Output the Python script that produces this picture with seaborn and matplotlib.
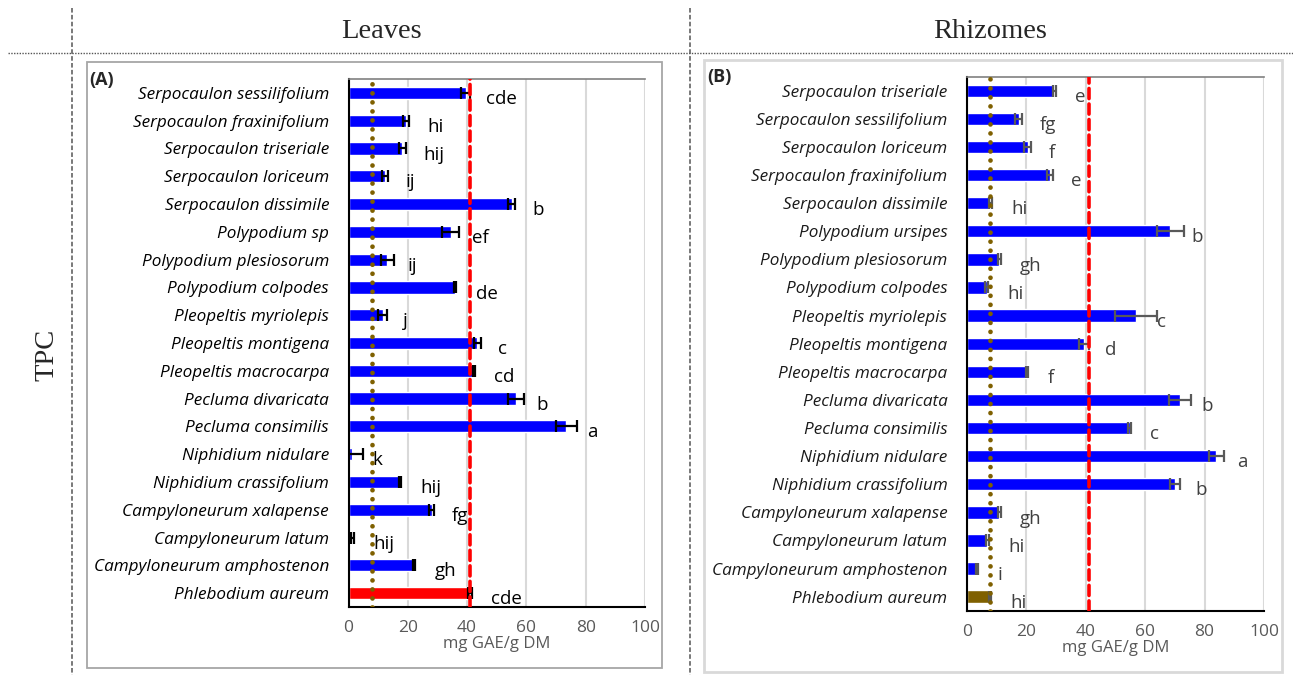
import matplotlib
matplotlib.use("Agg")
import matplotlib.pyplot as plt
import seaborn as sns
import numpy as np
import pandas as pd
from matplotlib.patches import Rectangle
from matplotlib.lines import Line2D

# ---- Leaves (A) ----
leaf_species = [
    "Serpocaulon sessilifolium", "Serpocaulon fraxinifolium", "Serpocaulon triseriale",
    "Serpocaulon loriceum", "Serpocaulon dissimile", "Polypodium sp",
    "Polypodium plesiosorum", "Polypodium colpodes", "Pleopeltis myriolepis",
    "Pleopeltis montigena", "Pleopeltis macrocarpa", "Pecluma divaricata",
    "Pecluma consimilis", "Niphidium nidulare", "Niphidium crassifolium",
    "Campyloneurum xalapense", "Campyloneurum latum", "Campyloneurum amphostenon",
    "Phlebodium aureum",
]
leaf_tpc = [39.5, 19.5, 18.2, 12.3, 55.0, 34.5, 13.0, 36.0, 11.5, 43.5, 42.2,
            56.5, 73.5, 1.2, 17.3, 28.0, 1.3, 22.2, 41.0]
leaf_err = [1.5, 1.0, 1.2, 1.0, 1.2, 2.8, 2.2, 0.4, 1.4, 1.3, 0.3,
            2.8, 3.4, 3.8, 0.3, 0.8, 0.5, 0.3, 0.8]
leaf_groups = ["cde", "hi", "hij", "ij", "b", "ef", "ij", "de", "j", "c", "cd",
               "b", "a", "k", "hij", "fg", "hij", "gh", "cde"]

# ---- Rhizomes (B) ----
rhiz_species = [
    "Serpocaulon triseriale", "Serpocaulon sessilifolium", "Serpocaulon loriceum",
    "Serpocaulon fraxinifolium", "Serpocaulon dissimile", "Polypodium ursipes",
    "Polypodium plesiosorum", "Polypodium colpodes", "Pleopeltis myriolepis",
    "Pleopeltis montigena", "Pleopeltis macrocarpa", "Pecluma divaricata",
    "Pecluma consimilis", "Niphidium nidulare", "Niphidium crassifolium",
    "Campyloneurum xalapense", "Campyloneurum latum", "Campyloneurum amphostenon",
    "Phlebodium aureum",
]
rhiz_tpc = [29.5, 17.5, 20.5, 28.0, 8.0, 68.5, 11.0, 6.7, 57.0, 39.5, 20.2,
            71.8, 54.8, 84.0, 70.0, 11.0, 6.9, 3.4, 7.8]
rhiz_err = [0.6, 1.2, 1.1, 1.1, 0.5, 4.5, 0.4, 0.4, 7.0, 1.8, 0.3,
            3.6, 0.4, 2.5, 1.7, 0.4, 0.5, 0.3, 0.4]
rhiz_groups = ["e", "fg", "f", "e", "hi", "b", "gh", "hi", "c", "d", "f",
               "b", "c", "a", "b", "gh", "hi", "i", "hi"]

x_ticks = [0, 20, 40, 60, 80, 100]

BLUE = "#0000ff"
RED = "#ff0000"
BROWN = "#7f6000"
GRID = "#d9d9d9"
TICKGRAY = "#595959"

sns.set_theme(style="white")
plt.rcParams["font.family"] = ["Open Sans", "DejaVu Sans"]

W, H = 1293, 675
fig = plt.figure(figsize=(W / 100, H / 100), dpi=100)


def fx(px):
    return px / W


def fy(py):
    return 1 - py / H


# table rules
fig.add_artist(Line2D([fx(72), fx(72)], [fy(8), fy(675)], color="#555555",
                      lw=1.1, ls=(0, (3, 1.5))))
fig.add_artist(Line2D([fx(690), fx(690)], [fy(8), fy(675)], color="#555555",
                      lw=1.1, ls=(0, (3, 1.5))))
fig.add_artist(Line2D([fx(8), fx(1293)], [fy(52.5), fy(52.5)], color="#555555",
                      lw=1.0, ls=(0, (1, 1))))

fig.text(fx(381), fy(32), "Leaves", ha="center", va="center",
         family="Liberation Serif", fontsize=20.5)
fig.text(fx(990), fy(32), "Rhizomes", ha="center", va="center",
         family="Liberation Serif", fontsize=20.5)
fig.text(fx(47), fy(355), "TPC", ha="center", va="center", rotation=90,
         family="Liberation Serif", fontsize=20.5)

# panel frames
fig.add_artist(Rectangle((fx(87), fy(668)), fx(662) - fx(87), fy(62) - fy(668),
                         transform=fig.transFigure, fill=False,
                         edgecolor="#a6a6a6", lw=1.3))
fig.add_artist(Rectangle((fx(704), fy(672)), fx(1282) - fx(704), fy(60) - fy(672),
                         transform=fig.transFigure, fill=False,
                         edgecolor="#d9d9d9", lw=2.0))
fig.text(fx(89), fy(80), "(A)", ha="left", va="center", fontsize=13,
         fontweight="bold")
fig.text(fx(707), fy(77), "(B)", ha="left", va="center", fontsize=13,
         fontweight="bold")


def draw_panel(rect, species, vals, errs, groups, last_color, err_color,
               text_color, label_color, ref_red, ref_brown):
    ax = fig.add_axes(rect)
    df = pd.DataFrame({"species": species, "tpc": vals})
    colors = [BLUE] * (len(species) - 1) + [last_color]
    sns.barplot(data=df, x="tpc", y="species", hue="species", palette=colors,
                orient="h", width=0.44, legend=False, ax=ax, saturation=1)
    ypos = np.arange(len(species))
    ax.errorbar(vals, ypos, xerr=errs, fmt="none", ecolor=err_color,
                elinewidth=1.6, capsize=4, capthick=1.6, zorder=4)
    ax.axvline(ref_brown, color=BROWN, lw=3.4, ls=(0, (0.01, 1.9)),
               dash_capstyle="round", zorder=5)
    ax.axvline(ref_red, color=RED, lw=2.6, ls=(0, (2.8, 1.5)),
               dash_capstyle="round", zorder=5)
    for v, y, g in zip(vals, ypos, groups):
        ax.text(v + 7.0, y + 0.22, g, ha="left", va="center", fontsize=13.5,
                color=text_color)
    ax.set_xlim(0, 100)
    ax.set_ylim(len(species) - 0.5, -0.5)
    ax.set_xticks(x_ticks)
    ax.set_xticklabels([str(t) for t in x_ticks], color=TICKGRAY, fontsize=12.5)
    ax.set_yticks(ypos)
    ax.set_yticklabels(species, fontstyle="italic", fontsize=12.3,
                       color=label_color)
    ax.set_yticks(np.arange(len(species) + 1) - 0.5, minor=True)
    ax.tick_params(axis="y", which="major", length=0, pad=14)
    ax.tick_params(axis="y", which="minor", length=9, width=1.5,
                   direction="inout", color="black")
    ax.tick_params(axis="x", which="major", length=9, width=1.5,
                   direction="inout", color="black", pad=5)
    ax.set_xlabel("mg GAE/g DM", color=TICKGRAY, fontsize=12, labelpad=0)
    ax.set_ylabel("")
    ax.grid(axis="x", color=GRID, lw=1.5)
    ax.set_axisbelow(True)
    for s in ("left", "bottom"):
        ax.spines[s].set_color("black")
        ax.spines[s].set_linewidth(1.5)
    ax.spines["top"].set_color("#808080")
    ax.spines["top"].set_linewidth(1.2)
    ax.spines["right"].set_visible(False)
    return ax


ref_red = leaf_tpc[-1]
ref_brown = rhiz_tpc[-1]

draw_panel([fx(348.5), fy(607), fx(645) - fx(348.5), fy(79) - fy(607)],
           leaf_species, leaf_tpc, leaf_err, leaf_groups, RED, "black",
           "black", "black", ref_red, ref_brown)
draw_panel([fx(966.7), fy(610.7), fx(1264) - fx(966.7), fy(76.7) - fy(610.7)],
           rhiz_species, rhiz_tpc, rhiz_err, rhiz_groups, BROWN, "#595959",
           "#404040", "#1a1a1a", ref_red, ref_brown)

fig.savefig("out.png", dpi=100)
